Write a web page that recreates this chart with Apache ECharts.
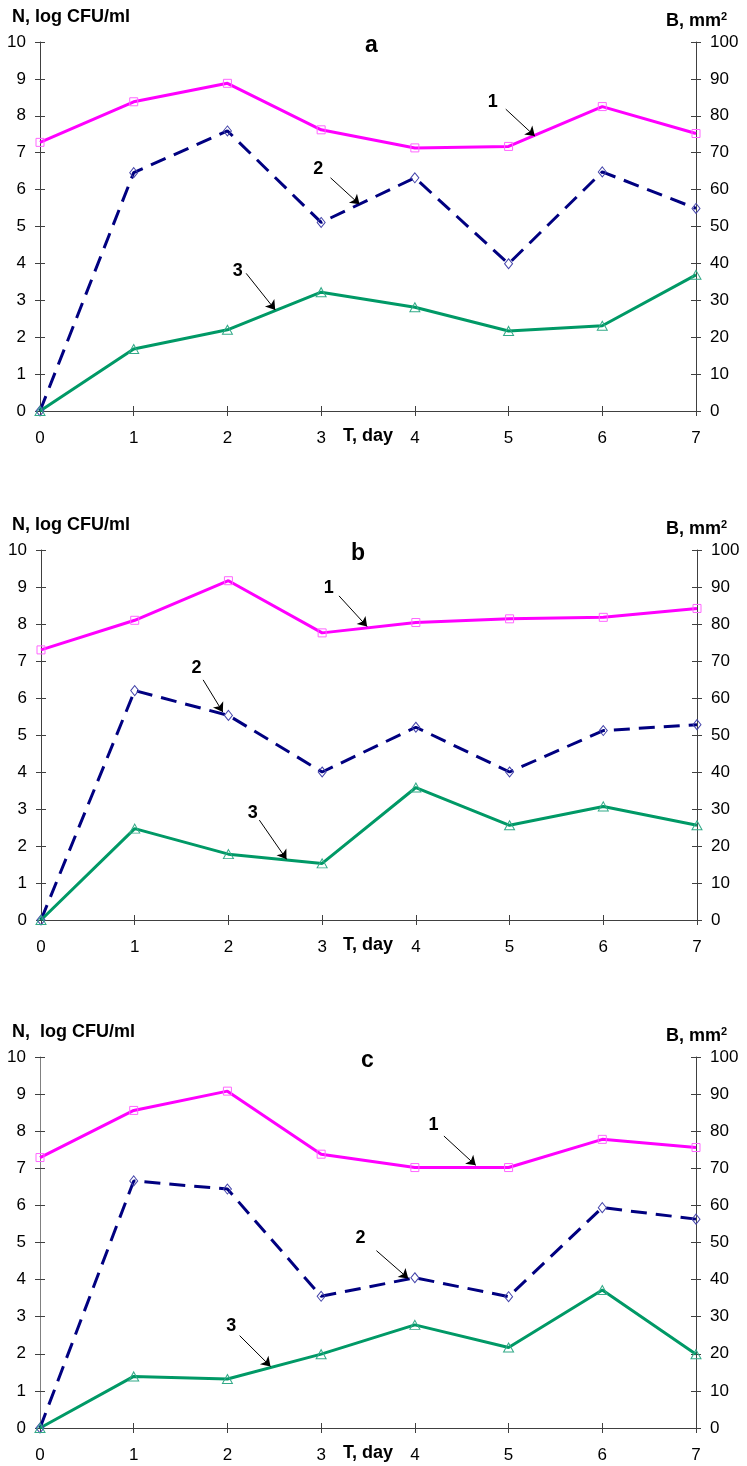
<!DOCTYPE html>
<html><head><meta charset="utf-8">
<script src="https://cdn.jsdelivr.net/npm/echarts@6/dist/echarts.min.js"></script>
<style>html,body{margin:0;padding:0;background:#fff}#c{width:747px;height:1466px}</style>
</head><body><div id="c"></div>
<script>
// ---- data ----
const days = [0, 1, 2, 3, 4, 5, 6, 7];
const a1 = [7.28, 8.38, 8.88, 7.62, 7.13, 7.17, 8.25, 7.52];
const a2 = [0, 6.46, 7.59, 5.11, 6.32, 3.99, 6.48, 5.49];
const a3 = [0, 1.68, 2.20, 3.22, 2.81, 2.17, 2.31, 3.69];
const b1 = [7.30, 8.10, 9.17, 7.76, 8.04, 8.14, 8.18, 8.42];
const b2 = [0, 6.20, 5.53, 4.00, 5.21, 4.00, 5.12, 5.28];
const b3 = [0, 2.47, 1.78, 1.53, 3.58, 2.56, 3.07, 2.56];
const c1 = [7.29, 8.56, 9.08, 7.38, 7.02, 7.02, 7.78, 7.56];
const c2 = [0, 6.66, 6.44, 3.55, 4.05, 3.54, 5.94, 5.63];
const c3 = [0, 1.39, 1.32, 1.99, 2.78, 2.17, 3.72, 1.99];
const leftAxis = { min: 0, max: 10, interval: 1 };
const rightAxis = { min: 0, max: 100, interval: 10 };
const panelLetters = ['a', 'b', 'c'];
const leftTitles = ['N, log CFU/ml', 'N, log CFU/ml', 'N,  log CFU/ml'];
// annotation: [label, labelPos, arrowFrom, arrowTo] in data coords
const annA = [['1', [4.83, 8.38], [4.97, 8.18], [5.28, 7.45]], ['2', [2.97, 6.55], [3.10, 6.32], [3.41, 5.60]], ['3', [2.11, 3.80], [2.20, 3.73], [2.51, 2.74]]];
const annB = [['1', [3.07, 8.96], [3.18, 8.76], [3.48, 7.93]], ['2', [1.66, 6.82], [1.73, 6.49], [1.94, 5.62]], ['3', [2.26, 2.90], [2.33, 2.70], [2.62, 1.64]]];
const annC = [['1', [4.20, 8.17], [4.31, 7.87], [4.65, 7.08]], ['2', [3.42, 5.11], [3.59, 4.78], [3.93, 4.03]], ['3', [2.04, 2.75], [2.13, 2.49], [2.46, 1.66]]];

const panels = [[a1, a2, a3, annA], [b1, b2, b3, annB], [c1, c2, c3, annC]];
const grids = [
  { left: 40, top: 42, width: 656, height: 369 },
  { left: 41, top: 550, width: 656, height: 370 },
  { left: 40, top: 1057, width: 656, height: 371 }
];
const FONT = '"Liberation Sans", Arial, sans-serif';
const AX = '#404040';

const xAxis = [], yAxis = [], series = [], graphic = [];
grids.forEach((g, i) => {
  const axLine = { show: true, lineStyle: { color: i === 2 ? '#808080' : AX, width: 1 } };
  const xl = { show: true, lineStyle: { color: AX, width: 1 } };
  xAxis.push({ type: 'value', gridIndex: i, min: 0, max: 7, interval: 1, position: 'bottom',
    axisLine: xl, axisTick: { show: true, length: 5, lineStyle: { color: AX } },
    axisLabel: { fontSize: 17, color: '#000', fontFamily: FONT, margin: 19 }, splitLine: { show: false } });
  xAxis.push({ type: 'value', gridIndex: i, min: 0, max: 7, interval: 1, position: 'bottom',
    axisLine: { show: false }, axisTick: { show: true, inside: true, length: 5, lineStyle: { color: AX } },
    axisLabel: { show: false }, splitLine: { show: false } });
  yAxis.push(Object.assign({ type: 'value', gridIndex: i, position: 'left',
    axisLine: axLine, axisTick: { show: true, length: 5, lineStyle: { color: AX } },
    axisLabel: { fontSize: 17, color: '#000', fontFamily: FONT, margin: 14 }, splitLine: { show: false } }, leftAxis));
  yAxis.push(Object.assign({ type: 'value', gridIndex: i, position: 'left',
    axisLine: { show: false }, axisTick: { show: true, inside: true, length: 5, lineStyle: { color: AX } },
    axisLabel: { show: false }, splitLine: { show: false } }, leftAxis));
  yAxis.push(Object.assign({ type: 'value', gridIndex: i, position: 'right',
    axisLine: { show: true, lineStyle: { color: AX, width: 1 } }, axisTick: { show: true, length: 5, lineStyle: { color: AX } },
    axisLabel: { fontSize: 17, color: '#000', fontFamily: FONT, margin: 14 }, splitLine: { show: false } }, rightAxis));
  yAxis.push(Object.assign({ type: 'value', gridIndex: i, position: 'right',
    axisLine: { show: false }, axisTick: { show: true, inside: true, length: 5, lineStyle: { color: AX } },
    axisLabel: { show: false }, splitLine: { show: false } }, rightAxis));

  const [s1, s2, s3, ann] = panels[i];
  const mk = arr => days.map((d, k) => [d, arr[k]]);
  series.push({ type: 'line', xAxisIndex: 2 * i, yAxisIndex: 4 * i, data: mk(s1), symbol: 'rect', symbolSize: 8,
    lineStyle: { color: '#FF00FF', width: 3 }, itemStyle: { color: 'rgba(255,255,255,0)', borderColor: '#FF66FF', borderWidth: 1 }, z: 3 });
  series.push({ type: 'line', xAxisIndex: 2 * i, yAxisIndex: 4 * i, data: mk(s2), symbol: 'diamond', symbolSize: [8, 10],
    lineStyle: { color: '#000080', width: 3, type: [16, 9] }, itemStyle: { color: 'rgba(255,255,255,0)', borderColor: '#4444AA', borderWidth: 1 }, z: 3 });
  series.push({ type: 'line', xAxisIndex: 2 * i, yAxisIndex: 4 * i, data: mk(s3), symbol: 'triangle', symbolSize: [10, 9],
    lineStyle: { color: '#009966', width: 3 }, itemStyle: { color: 'rgba(255,255,255,0)', borderColor: '#33AA88', borderWidth: 1 }, z: 3,
    markLine: { silent: true, symbol: ['none', 'arrow'], symbolSize: 9, animation: false, z: 10,
      lineStyle: { color: '#000', width: 1, type: 'solid' }, itemStyle: { color: '#000' }, label: { show: false },
      emphasis: { disabled: true },
      data: ann.map(a => [{ coord: a[2], lineStyle: { color: '#000' } }, { coord: a[3] }]) },
    markPoint: { silent: true, symbol: 'circle', symbolSize: 1, itemStyle: { color: 'rgba(0,0,0,0)' }, animation: false,
      label: { show: true, position: 'inside', formatter: '{b}', fontSize: 18, fontWeight: 'bold', color: '#000', fontFamily: FONT },
      data: ann.map(a => ({ name: a[0], coord: a[1] })) } });

  // texts
  const top = g.top;
  graphic.push({ type: 'text', left: 12, top: top - 34, style: { text: leftTitles[i], font: 'bold 18px ' + FONT, fill: '#000' } });
  graphic.push({ type: 'text', left: 666, top: top - 31, style: {
    text: '{m|B, mm}{s|2}', rich: { m: { font: 'bold 18px ' + FONT, fill: '#000' }, s: { font: 'bold 11px ' + FONT, fill: '#000', verticalAlign: 'top', padding: [0, 0, 10, 0] } } } });
  graphic.push({ type: 'text', left: 343, top: top + g.height + 16, style: { text: 'T, day', font: 'bold 18px ' + FONT, fill: '#000' } });
  graphic.push({ type: 'text', left: [372, 358, 368][i] - 7, top: top - 8, style: { text: panelLetters[i], font: 'bold 23px ' + FONT, fill: '#000' } });
});

const chart = echarts.init(document.getElementById('c'), null, { renderer: 'canvas' });
chart.setOption({ animation: false, backgroundColor: '#fff', grid: grids, xAxis, yAxis, series, graphic });
</script></body></html>
